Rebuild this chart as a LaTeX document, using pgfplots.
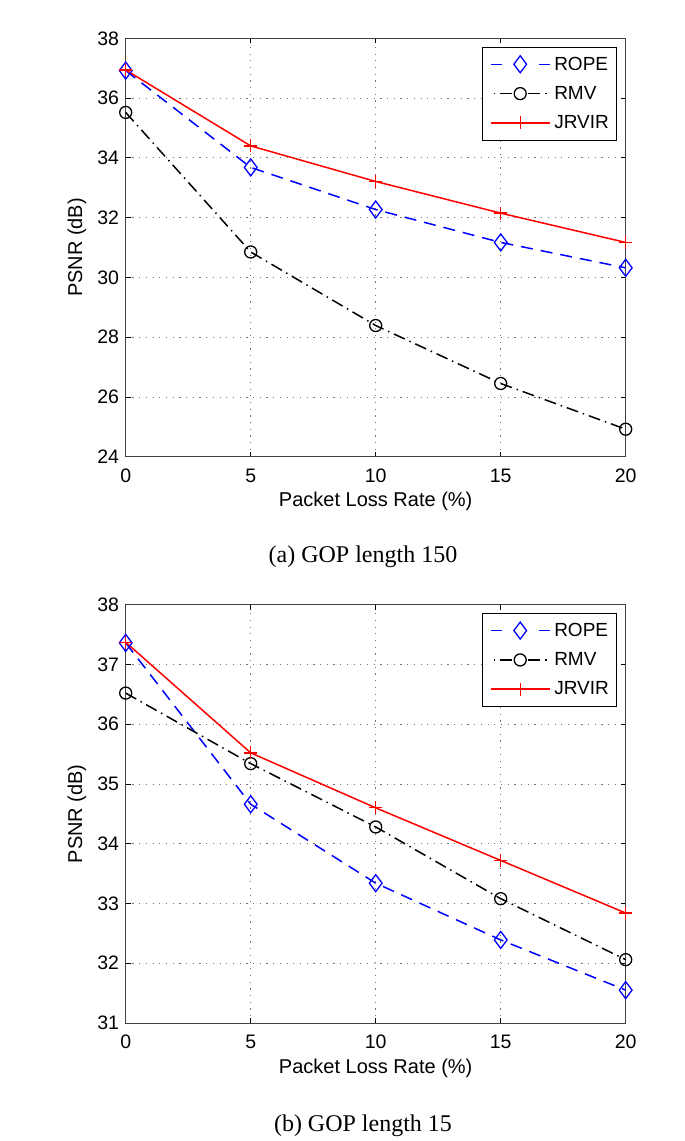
\documentclass[border=0pt]{standalone}
\usepackage{fontspec}
\setmainfont{Liberation Sans}
\newfontfamily\capfont{Liberation Serif}
\usepackage{pgfplots}
\pgfplotsset{compat=1.18}

\pgfplotsset{
  mystyle/.style={
    scale only axis, width=500pt, height=418.4pt,
    xmin=0, xmax=20, xtick={0,5,10,15,20},
    clip=false,
    grid=major,
    major grid style={black!55, line width=0.8pt, dash pattern=on 1.2pt off 5.5pt},
    tick align=inside, major tick length=5pt,
    tick style={black, line width=0.8pt},
    axis line style={black!75, line width=1pt},
    /pgf/number format/assume math mode=true,
    ticklabel style={font=\fontsize{19.5}{22}\selectfont},
    xticklabel style={anchor=north, inner sep=0pt, yshift=-12pt},
    yticklabel style={anchor=east, inner sep=0pt, xshift=-6.5pt},
    label style={font=\fontsize{20}{23}\selectfont},
    xlabel={Packet Loss Rate (\%)},
    ylabel={PSNR (dB)},
    xlabel style={at={(axis description cs:0.5,0)}, anchor=base, inner sep=0pt, yshift=-50pt},
    ylabel style={at={(axis description cs:0,0.5)}, anchor=center, inner sep=0pt, yshift=48.7pt},
    legend style={at={(0.9826,0.980)}, anchor=north east, draw=black, line width=0.8pt,
      fill=white, font=\fontsize{19}{22}\selectfont, inner xsep=4pt, inner ysep=7.8pt,
      row sep=10.7pt, nodes={inner xsep=3.8pt, inner ysep=2pt}},
    legend cell align=left,
  },
  rope/.style={blue, line width=1.5pt, dash pattern=on 12pt off 8pt,
    mark=diamond, mark size=8.5pt, mark options={solid, line width=1.3pt},
    legend image code/.code={
      \path (0pt,0pt) (4pt,0pt);
      \draw[dash pattern=on 11pt off 37pt] (4pt,0pt) -- (63pt,0pt);
      \draw plot coordinates {(33.5pt,0pt)};}},
  rmv/.style={black, line width=1.5pt, dash pattern=on 12pt off 5pt on 1.5pt off 5pt,
    mark=o, mark size=6pt, mark options={solid, line width=1.3pt},
    legend image code/.code={
      \path (0pt,0pt) (4pt,0pt);
      \draw[solid] (7pt,0pt) -- (8.5pt,0pt) (13pt,0pt) -- (25pt,0pt) (41.5pt,0pt) -- (53.5pt,0pt) (58.5pt,0pt) -- (60pt,0pt);
      \draw plot coordinates {(33.5pt,0pt)};}},
  jrvir/.style={red, line width=1.5pt, solid,
    mark=+, mark size=6.5pt, mark options={solid, line width=1.3pt},
    legend image code/.code={
      \path (0pt,0pt) (4pt,0pt);
      \draw (4pt,0pt) -- (63pt,0pt);
      \draw plot coordinates {(33.5pt,0pt)};}},
}

\begin{document}
\begin{tikzpicture}
\path[use as bounding box] (0pt,0pt) rectangle (685pt,-1141pt);

\begin{axis}[mystyle, at={(125.7pt,-456.7pt)}, anchor=south west,
  ymin=24, ymax=38, ytick={24,26,28,30,32,34,36,38}]
\addplot[rope] coordinates {(0,36.92) (5,33.68) (10,32.27) (15,31.17) (20,30.32)};
\addlegendentry{ROPE}
\addplot[rmv] coordinates {(0,35.52) (5,30.85) (10,28.39) (15,26.45) (20,24.92)};
\addlegendentry{RMV}
\addplot[jrvir] coordinates {(0,36.94) (5,34.40) (10,33.21) (15,32.15) (20,31.17)};
\addlegendentry{JRVIR}
\end{axis}

\begin{axis}[mystyle, at={(125.7pt,-1023pt)}, anchor=south west,
  ymin=31, ymax=38, ytick={31,32,33,34,35,36,37,38}]
\addplot[rope] coordinates {(0,37.36) (5,34.66) (10,33.34) (15,32.39) (20,31.55)};
\addlegendentry{ROPE}
\addplot[rmv] coordinates {(0,36.52) (5,35.34) (10,34.28) (15,33.08) (20,32.06)};
\addlegendentry{RMV}
\addplot[jrvir] coordinates {(0,37.37) (5,35.52) (10,34.60) (15,33.72) (20,32.84)};
\addlegendentry{JRVIR}
\end{axis}

\node[anchor=base, inner sep=0pt, font=\capfont\fontsize{24}{28}\selectfont] at (363pt,-562pt) {(a) GOP length 150};
\node[anchor=base, inner sep=0pt, font=\capfont\fontsize{24}{28}\selectfont] at (363pt,-1131pt) {(b) GOP length 15};
\end{tikzpicture}
\end{document}
